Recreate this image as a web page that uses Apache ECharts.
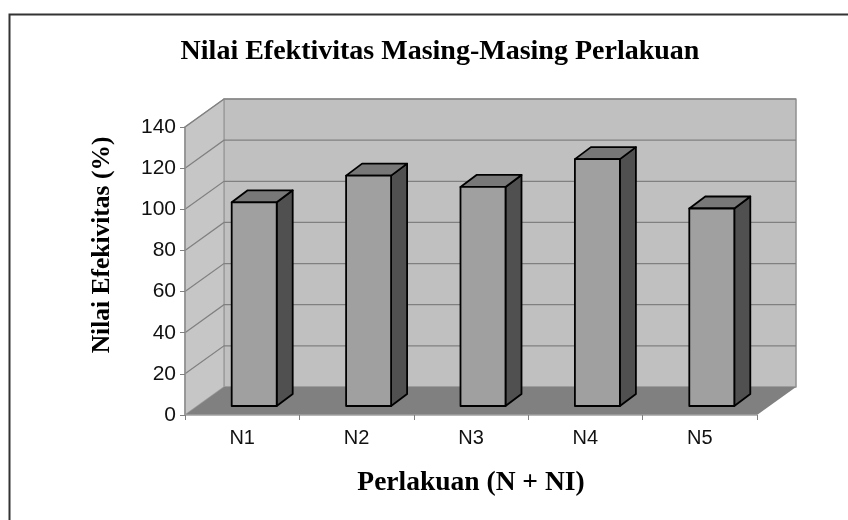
<!DOCTYPE html>
<html>
<head>
<meta charset="utf-8">
<style>
html, body { margin: 0; padding: 0; background: #fff; }
#chart { width: 848px; height: 520px; }
</style>
<script src="https://cdn.jsdelivr.net/npm/echarts@6/dist/echarts.min.js"></script>
</head>
<body>
<div id="chart"></div>
<script>
var categories = ['N1', 'N2', 'N3', 'N4', 'N5'];
var values = [99, 112, 106.5, 120, 96];
var yTicks = [0, 20, 40, 60, 80, 100, 120, 140];

// depth of the fake 3d box, and of one bar
var wallDx = 39, wallDy = 28;
var barShiftX = 12, barShiftY = 9;
var barW = 45, barDx = 16, barDy = 12;

function poly(points, fill, stroke, width) {
    return {
        type: 'polygon',
        shape: { points: points },
        style: { fill: fill, stroke: stroke || null, lineWidth: width || 0, lineJoin: 'round' }
    };
}

function renderBox(params, api) {
    var r = params.coordSys;
    var x0 = r.x, x1 = r.x + r.width, yT = r.y, yB = r.y + r.height;
    var kids = [
        poly([[x0 + wallDx, yT - wallDy], [x1 + wallDx, yT - wallDy], [x1 + wallDx, yB - wallDy], [x0 + wallDx, yB - wallDy]], '#c0c0c0', '#909090', 1.5),
        poly([[x0, yT], [x0 + wallDx, yT - wallDy], [x0 + wallDx, yB - wallDy], [x0, yB]], '#c6c6c6', '#a0a0a0', 1.5)
    ];
    yTicks.forEach(function (t) {
        if (t === 0) return;
        var y = api.coord([0, t])[1];
        kids.push({
            type: 'polyline',
            shape: { points: [[x0, y], [x0 + wallDx, y - wallDy], [x1 + wallDx, y - wallDy]] },
            style: { fill: null, stroke: '#808080', lineWidth: 1.2 }
        });
    });
    kids.push(poly([[x0, yB], [x1, yB], [x1 + wallDx, yB - wallDy], [x0 + wallDx, yB - wallDy]], '#808080'));
    return { type: 'group', children: kids };
}

function renderBar(params, api) {
    var i = api.value(0);
    var b = api.coord([i, 0]);
    var t = api.coord([i, api.value(1)]);
    var l = b[0] + barShiftX - barW / 2, r = l + barW;
    var yB = b[1] - barShiftY, yT = t[1] - barShiftY;
    var edge = '#000';
    return {
        type: 'group',
        children: [
            poly([[r, yT], [r + barDx, yT - barDy], [r + barDx, yB - barDy], [r, yB]], '#505050', edge, 1.8),
            poly([[l, yT], [l + barDx, yT - barDy], [r + barDx, yT - barDy], [r, yT]], '#787878', edge, 1.8),
            poly([[l, yT], [r, yT], [r, yB], [l, yB]], '#a0a0a0', edge, 1.8)
        ]
    };
}

var chart = echarts.init(document.getElementById('chart'));
chart.setOption({
    animation: false,
    backgroundColor: '#fff',
    title: {
        text: 'Nilai Efektivitas Masing-Masing Perlakuan',
        left: 435,
        top: 33,
        textAlign: 'center',
        textStyle: { fontFamily: 'Liberation Serif', fontWeight: 'bold', fontSize: 28, color: '#000' }
    },
    graphic: [
        // the frame is cut off on the right and at the bottom
        {
            type: 'polyline', z: -1,
            shape: { points: [[9.5, 520], [9.5, 14.5], [848, 14.5]] },
            style: { fill: null, stroke: '#333', lineWidth: 2 }
        },
        {
            type: 'text', x: 102, y: 245, rotation: Math.PI / 2,
            style: {
                text: 'Nilai Efekivitas (%)', align: 'center', verticalAlign: 'middle',
                fontFamily: 'Liberation Serif', fontWeight: 'bold', fontSize: 25.5, fill: '#000'
            }
        }
    ],
    grid: { left: 185, top: 127, width: 572, height: 288 },
    xAxis: {
        type: 'category',
        data: categories,
        name: 'Perlakuan (N + NI)',
        nameLocation: 'middle',
        nameGap: 54,
        nameTextStyle: { fontFamily: 'Liberation Serif', fontWeight: 'bold', fontSize: 27.5, color: '#000' },
        axisLine: { lineStyle: { color: '#a0a0a0', width: 1.5 } },
        axisTick: { show: true, length: 5, lineStyle: { color: '#808080' } },
        axisLabel: { fontFamily: 'Liberation Sans', fontSize: 20, color: '#111', margin: 13 },
        splitLine: { show: false },
        z: 5
    },
    yAxis: {
        type: 'value',
        min: 0,
        max: 140,
        interval: 20,
        axisLine: { show: true, lineStyle: { color: '#909090', width: 1.5 } },
        axisTick: { show: true, length: 5, lineStyle: { color: '#808080' } },
        axisLabel: { fontFamily: 'Liberation Sans', fontSize: 21, color: '#111', margin: 9 },
        splitLine: { show: false },
        z: 5
    },
    series: [
        { type: 'custom', renderItem: renderBox, data: [[0, 0]], z: 1, silent: true, clip: false },
        {
            type: 'custom',
            renderItem: renderBar,
            data: values.map(function (v, i) { return [i, v]; }),
            encode: { x: 0, y: 1 },
            z: 2,
            clip: false
        }
    ]
});
</script>
</body>
</html>
